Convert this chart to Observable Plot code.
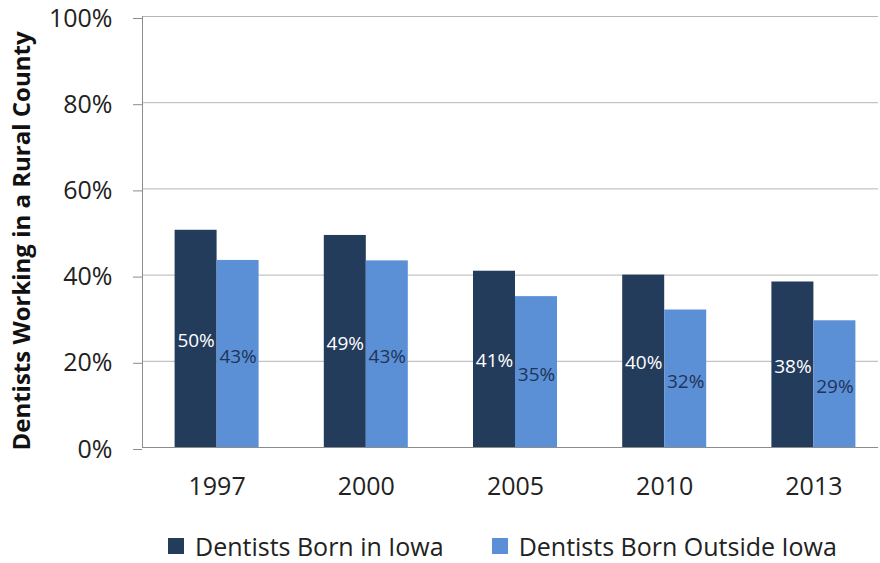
<!DOCTYPE html>
<html><head><meta charset="utf-8">
<script src="https://cdn.jsdelivr.net/npm/d3@7"></script>
<script src="https://cdn.jsdelivr.net/npm/@observablehq/plot@0.6"></script>
<style>
body{margin:0;background:#fff;font-family:"Open Sans",sans-serif}
.legend{display:flex;align-items:center;height:24px;margin-top:24px;padding-left:168px;font-size:25px;color:#222;white-space:nowrap}
.sw{width:16px;height:16px;display:inline-block;margin-right:11px;flex-shrink:0}
.item{display:flex;align-items:center;margin-right:48px;flex-shrink:0;white-space:nowrap}
</style></head><body><div id="chart"></div>
<script>
const years = ["1997", "2000", "2005", "2010", "2013"];
const bornIowa = [50.4, 49.2, 40.9, 40.0, 38.4];
const bornOutside = [43.4, 43.3, 35.0, 31.9, 29.4];
const seriesNames = ["Dentists Born in Iowa", "Dentists Born Outside Iowa"];
const seriesColors = ["#243c5c", "#5b8fd6"];
const yTicks = [0, 20, 40, 60, 80, 100];
const yTitle = "Dentists Working in a Rural County";

const rows = years.map((year, i) => ({year, iowa: bornIowa[i], outside: bornOutside[i]}));
const half = 42;

const plot = Plot.plot({
  width: 880, height: 510, marginTop: 16, marginBottom: 63, marginLeft: 142, marginRight: 2,
  style: {fontFamily: '"Open Sans", sans-serif', background: "#fff", overflow: "visible"},
  x: {domain: years, range: [142, 888], paddingInner: 0.437, paddingOuter: 0.2185, round: false},
  y: {domain: [0, 100]},
  marks: [
    Plot.gridY(yTicks.slice(1), {stroke: "#b5b5b5", strokeOpacity: 1}),
    Plot.barY(rows, {x: "year", y: "iowa", fill: seriesColors[0], insetLeft: 0, insetRight: half}),
    Plot.barY(rows, {x: "year", y: "outside", fill: seriesColors[1], insetLeft: half, insetRight: 0}),
    Plot.ruleY([0], {stroke: "#8c8c8c"}),
    Plot.frame({anchor: "left", stroke: "#8c8c8c"}),
    Plot.text(rows, {x: "year", y: d => d.iowa / 2, text: d => Math.round(d.iowa) + "%", dx: -half / 2, dy: 2, fill: "white", fontSize: 19}),
    Plot.text(rows, {x: "year", y: d => d.outside / 2, text: d => Math.round(d.outside) + "%", dx: half / 2, dy: 3, fill: "#1f3556", fontSize: 19}),
    Plot.axisY(yTicks, {tickFormat: d => d + "%", tickSize: 9, tickPadding: 21, fontSize: 25, stroke: "#8c8c8c", fill: "#222", label: null, dy: 2}),
    Plot.axisX({tickSize: 0, tickPadding: 30, fontSize: 25, fill: "#222", label: null}),
    Plot.text([yTitle], {frameAnchor: "left", textAnchor: "middle", rotate: -90, dx: -120, dy: 9, fontSize: 24, fontWeight: "bold", fill: "#111", letterSpacing: "0.8px"})
  ]
});
document.getElementById("chart").append(plot);

const legend = document.createElement("div");
legend.className = "legend";
seriesNames.forEach((name, i) => {
  const item = document.createElement("div");
  item.className = "item";
  const sw = document.createElement("span");
  sw.className = "sw";
  sw.style.background = seriesColors[i];
  const label = document.createElement("span");
  label.textContent = name;
  item.append(sw, label);
  legend.append(item);
});
document.getElementById("chart").append(legend);
</script></body></html>
